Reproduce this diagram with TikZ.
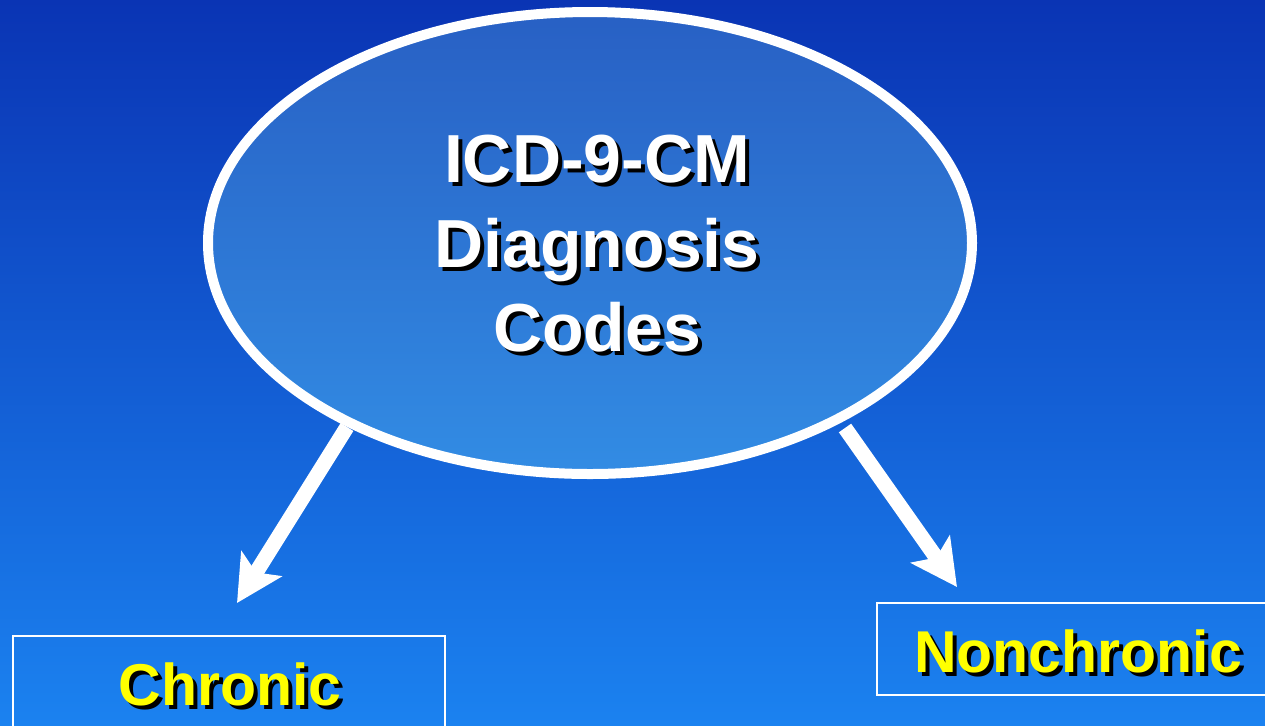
\documentclass[tikz,border=0pt]{standalone}
\usepackage{fontspec}
\setmainfont{Liberation Sans}
\usetikzlibrary{arrows.meta,shapes.geometric}
\definecolor{bgtop}{HTML}{0A34B4}
\definecolor{bgbot}{HTML}{1B82F0}
\definecolor{elltop}{HTML}{2860C4}
\definecolor{ellbot}{HTML}{328CE4}
\definecolor{labelyellow}{HTML}{FFFF00}
\begin{document}
\begin{tikzpicture}[x=0.5pt,y=-0.5pt,
  bubble/.style={ellipse, inner sep=0pt, outer sep=2.5pt,
    minimum width=382pt, minimum height=231pt,
    draw=white, line width=5pt, top color=elltop, bottom color=ellbot},
  flow/.style={draw=white, line width=7.5pt,
    -{Stealth[length=23pt,width=23.5pt,inset=5pt]}},
  catbox/.style={draw=white, line width=1pt, inner sep=0pt, minimum height=46pt},
  maintxt/.style={font=\fontsize{34}{42.25}\selectfont\bfseries, align=center, inner sep=0pt},
  cattxt/.style={font=\fontsize{29.5}{34}\selectfont\bfseries, inner sep=0pt}]
  \useasboundingbox (0,0) rectangle (1265,725);
  \clip (0,0) rectangle (1265,725);
  % backdrop
  \fill[top color=bgtop, bottom color=bgbot] (0,0) rectangle (1265,725);

  % arrow end points
  \coordinate (chstart) at (347,427);
  \coordinate (chtip) at (237,603);
  \coordinate (ncstart) at (845,428);
  \coordinate (nctip) at (957,587);

  % arrows go underneath the bubble
  \draw[flow] (chstart) -- (chtip);
  \draw[flow] (ncstart) -- (nctip);
  \node[bubble] (ell) at (590,243) {};

  % title with drop shadow
  \node[maintxt, text=black] (titleshadow) at (601,248) {ICD-9-CM\\Diagnosis\\Codes};
  \node[maintxt, text=white] (title) at (597,244) {ICD-9-CM\\Diagnosis\\Codes};

  % category boxes
  \node[catbox, minimum width=216pt] (chronic) at (229,682) {};
  \node[catbox, minimum width=201pt] (nonchronic) at (1078,649) {};
  \node[cattxt, text=black] (chronicshadow) at (234,688) {Chronic};
  \node[cattxt, text=labelyellow] (chroniclabel) at (230,684) {Chronic};
  \node[cattxt, text=black] (nonchronicshadow) at (1082,655) {Nonchronic};
  \node[cattxt, text=labelyellow] (nonchroniclabel) at (1078,651) {Nonchronic};
\end{tikzpicture}
\end{document}
